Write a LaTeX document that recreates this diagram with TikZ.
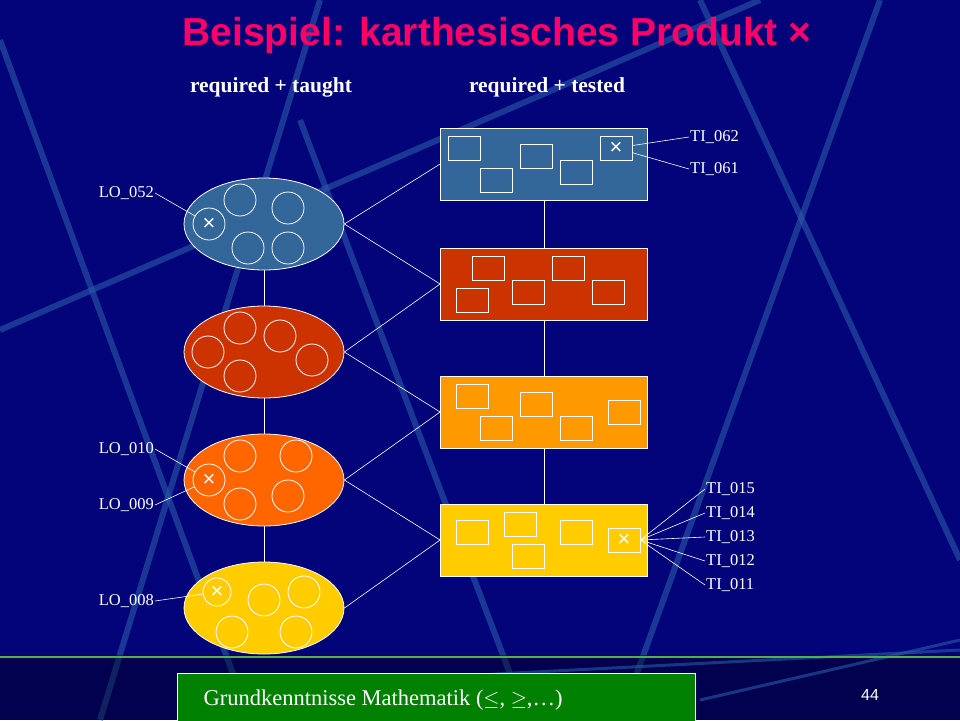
\documentclass[tikz,border=0pt]{standalone}
\usepackage{fontspec}
\setmainfont{Liberation Serif}
\setsansfont{Liberation Sans}
\usepackage{amssymb}
\usetikzlibrary{shapes.geometric}
\definecolor{bg}{HTML}{03037A}
\definecolor{streak}{HTML}{2A5AA8}
\definecolor{cblue}{HTML}{336699}
\definecolor{cred}{HTML}{CC3300}
\definecolor{corange}{HTML}{FF6600}
\definecolor{camber}{HTML}{FF9900}
\definecolor{cyellow}{HTML}{FFCC00}
\definecolor{pink}{HTML}{FF0066}
\definecolor{cgreen}{HTML}{008000}
\newcommand{\tx}{{\sffamily\fontsize{22}{22}\selectfont ×}}
\begin{document}
\begin{tikzpicture}[x=1pt,y=-1pt,
  ell/.style={ellipse,draw=white,line width=0.8pt,minimum width=160pt,minimum height=92pt,inner sep=0pt},
  rbox/.style={rectangle,draw=white,line width=0.8pt,minimum width=207pt,minimum height=72pt,inner sep=0pt},
  sc/.style={circle,draw=white,line width=0.8pt,minimum size=32pt,inner sep=0pt,text=white},
  sb/.style={rectangle,draw=white,line width=0.8pt,minimum width=32pt,minimum height=24pt,inner sep=0pt,text=white},
  lab/.style={text=white,font=\fontsize{16.5}{18}\selectfont,inner sep=1pt},
  con/.style={white,line width=0.6pt}]
\useasboundingbox (0,0) rectangle (960,720);
\fill[bg] (0,0) rectangle (960,720);
% decorative streaks
\begin{scope}[streak,line width=6pt,opacity=0.6]
\draw (0,330) -- (760,0);
\draw (100,720) -- (320,0);
\draw (700,0) -- (960,560);
\draw (300,120) -- (520,700);
\draw (880,0) -- (620,720);
\draw (0,40) -- (250,720);
\end{scope}
\fill[black,opacity=0.35] (0,655) rectangle (960,720);
\draw[streak,line width=3pt,opacity=0.6] (700,700) -- (960,640);
\draw[streak,line width=3pt,opacity=0.6] (380,680) -- (960,650);
\draw[green!40!gray,line width=2pt] (0,657) -- (960,657);
% title
\node[font=\sffamily\bfseries\fontsize{39}{42}\selectfont,text=pink] (title) at (497,35) {Beispiel: karthesisches Produkt ×};
\node[font=\bfseries\fontsize{21.5}{24}\selectfont,text=white] (h1) at (271,87) {required + taught};
\node[font=\bfseries\fontsize{21.5}{24}\selectfont,text=white] (h2) at (547,87) {required + tested};
% ellipses
\node[ell,fill=cblue] (e1) at (264,224) {};
\node[ell,fill=cred] (e2) at (264,352) {};
\node[ell,fill=corange] (e3) at (264,480) {};
\node[ell,fill=cyellow] (e4) at (264,608) {};
\draw[con] (e1) -- (e2); \draw[con] (e2) -- (e3); \draw[con] (e3) -- (e4);
% rects
\node[rbox,fill=cblue] (r1) at (544,164) {};
\node[rbox,fill=cred] (r2) at (544,284) {};
\node[rbox,fill=camber] (r3) at (544,412) {};
\node[rbox,fill=cyellow] (r4) at (544,540) {};
\draw[con] (r1) -- (r2); \draw[con] (r2) -- (r3); \draw[con] (r3) -- (r4);
% connections
\draw[con] (e1.east) -- (r1.west); \draw[con] (e1.east) -- (r2.west);
\draw[con] (e2.east) -- (r2.west); \draw[con] (e2.east) -- (r3.west);
\draw[con] (e3.east) -- (r3.west); \draw[con] (e3.east) -- (r4.west);
\draw[con] (e4.east) -- (r4.west);
% circles ellipse 1
\node[sc] (c1x) at (209,224) {\tx};
\node[sc] at (240,200) {}; \node[sc] at (288,208) {};
\node[sc] at (248,248) {}; \node[sc] at (288,248) {};
% ellipse 2
\node[sc] at (240,328) {}; \node[sc] at (280,336) {}; \node[sc] at (208,352) {};
\node[sc] at (312,360) {}; \node[sc] at (240,376) {};
% ellipse 3
\node[sc] at (240,456) {}; \node[sc] at (296,456) {}; \node[sc] (c3x) at (209,480) {\tx};
\node[sc] at (288,496) {}; \node[sc] at (240,504) {};
% ellipse 4
\node[sc,minimum size=28pt] (c4x) at (217,592) {\tx};
\node[sc] at (264,600) {}; \node[sc] at (304,592) {};
\node[sc] at (232,632) {}; \node[sc] at (296,632) {};
% boxes rect1
\node[sb] at (464,148) {}; \node[sb] at (536,156) {}; \node[sb] at (496,180) {};
\node[sb] at (576,172) {}; \node[sb] (b1x) at (616,148) {\tx};
% rect2
\node[sb] at (488,268) {}; \node[sb] at (568,268) {}; \node[sb] at (472,300) {};
\node[sb] at (528,292) {}; \node[sb] at (608,292) {};
% rect3
\node[sb] at (472,396) {}; \node[sb] at (536,404) {}; \node[sb] at (624,412) {};
\node[sb] at (496,428) {}; \node[sb] at (576,428) {};
% rect4
\node[sb] at (472,532) {}; \node[sb] at (520,524) {}; \node[sb] at (576,532) {};
\node[sb] at (528,556) {}; \node[sb] (b4x) at (624,540) {\tx};
% labels
\node[lab,anchor=east] (lo52) at (155,193) {LO\_052};
\node[lab,anchor=east] (lo10) at (155,449) {LO\_010};
\node[lab,anchor=east] (lo09) at (155,505) {LO\_009};
\node[lab,anchor=east] (lo08) at (155,601) {LO\_008};
\draw[con] (lo52.east) -- (c1x);
\draw[con] (lo10.east) -- (c3x);
\draw[con] (lo09.east) -- (c3x);
\draw[con] (lo08.east) -- (c4x);
\node[lab,anchor=west] (ti62) at (689,137) {TI\_062};
\node[lab,anchor=west] (ti61) at (689,169) {TI\_061};
\draw[con] (ti62.west) -- (b1x); \draw[con] (ti61.west) -- (b1x);
\node[lab,anchor=west] (ti15) at (705,489) {TI\_015};
\node[lab,anchor=west] (ti14) at (705,513) {TI\_014};
\node[lab,anchor=west] (ti13) at (705,537) {TI\_013};
\node[lab,anchor=west] (ti12) at (705,561) {TI\_012};
\node[lab,anchor=west] (ti11) at (705,585) {TI\_011};
\foreach \t in {ti15,ti14,ti13,ti12,ti11} \draw[con] (\t.west) -- (b4x.east);
% bottom box
\node[rectangle,draw=white,fill=cgreen,minimum width=518pt,minimum height=60pt,anchor=north west,inner sep=0pt] (gk) at (177,673) {};
\node[text=white,font=\fontsize{22.5}{24}\selectfont,anchor=west] (gkt) at (200,700) {Grundkenntnisse Mathematik ($\leq$, $\geq$,\dots)};
\node[text=white,font=\sffamily\fontsize{16}{18}\selectfont] (pg) at (870,695) {44};
\end{tikzpicture}
\end{document}
